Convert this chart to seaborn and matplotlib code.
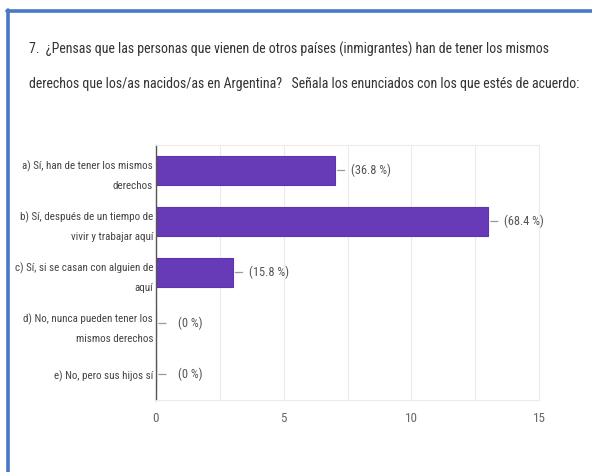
import matplotlib
matplotlib.use("Agg")
import matplotlib.pyplot as plt
from matplotlib.lines import Line2D
from matplotlib.ticker import MultipleLocator
from matplotlib import font_manager as fm
import seaborn as sns

categories = [
    "a) Sí, han de tener los mismos\nderechos",
    "b) Sí, después de un tiempo de\nvivir y trabajar aquí",
    "c) Sí, si se casan con alguien de\naquí",
    "d) No, nunca pueden tener los\nmismos derechos",
    "e) No, pero sus hijos sí",
]
counts = [7, 13, 3, 0, 0]
pct_labels = ["(36.8 %)", "(68.4 %)", "(15.8 %)", "(0 %)", "(0 %)"]
x_ticks = [0, 5, 10, 15]
title_lines = [
    "7.  ¿Pensas que las personas que vienen de otros países (inmigrantes) han de tener los mismos",
    "derechos que los/as nacidos/as en Argentina?   Señala los enunciados con los que estés de acuerdo:",
]

sns.set_theme(style="white")


def pick_font():
    for name in ["Liberation Sans Narrow", "Roboto Condensed", "Roboto", "DejaVu Sans"]:
        try:
            fm.findfont(fm.FontProperties(family=name), fallback_to_default=False)
            return name
        except Exception:
            continue
    return "DejaVu Sans"


FONT = pick_font()
plt.rcParams["font.family"] = [FONT, "DejaVu Sans"]

W, H = 592, 472
fig = plt.figure(figsize=(W / 100, H / 100), dpi=100)
fig.patch.set_facecolor("white")
renderer = fig.canvas.get_renderer()


def fit_size(text, target_px, base=10.0):
    t = fig.text(0, 0, text, fontsize=base)
    w = t.get_window_extent(renderer=renderer).width
    t.remove()
    return base * target_px / w


title_fs = min(fit_size(title_lines[0], 534), fit_size(title_lines[1], 549))
ylab_fs = min(fit_size("b) Sí, después de un tiempo de", 137),
              fit_size("c) Sí, si se casan con alguien de", 137))
pct_fs = fit_size("(36.8 %)", 40)
tick_fs = min(pct_fs * 1.05, 10)

ax = fig.add_axes([156 / W, 1 - 400 / H, (539 - 156) / W, (400 - 145) / H])
sns.barplot(x=counts, y=categories, orient="h", color="#673ab7",
            saturation=1, width=0.58, edgecolor="#5e35b1", linewidth=0.8, ax=ax)

ax.set_xlim(0, 15)
ax.set_xticks(x_ticks)
ax.xaxis.set_minor_locator(MultipleLocator(2.5))
ax.grid(True, axis="x", which="both", color="#ececec", linewidth=0.8)
ax.set_axisbelow(True)
for s in ["top", "right", "bottom"]:
    ax.spines[s].set_color("#ececec")
    ax.spines[s].set_linewidth(0.8)
ax.spines["left"].set_color("#555555")
ax.spines["left"].set_linewidth(1.0)
ax.tick_params(axis="x", which="both", length=0, pad=9, labelsize=tick_fs, labelcolor="#666666")
ax.tick_params(axis="y", length=0, pad=2, labelsize=ylab_fs, labelcolor="#444444")
for lab in ax.get_yticklabels():
    lab.set_linespacing(2.1)
ax.set_xlabel("")
ax.set_ylabel("")

for i, (v, lab) in enumerate(zip(counts, pct_labels)):
    ax.annotate("", xy=(v, i), xytext=(10, 0), textcoords="offset pixels",
                xycoords="data",
                arrowprops=dict(arrowstyle="-", color="#999999", lw=0.9,
                                shrinkA=0, shrinkB=2))
    ax.annotate(lab, xy=(v, i), xytext=(16 if v > 0 else 22, 0),
                textcoords="offset pixels", va="center", ha="left",
                fontsize=pct_fs, color="#555555")

for line, yc in zip(title_lines, [48, 82]):
    fig.text(29 / W, 1 - yc / H, line, ha="left", va="center_baseline",
             fontsize=title_fs, color="#333333")

# blue frame of the screenshot
fig.add_artist(Line2D([7.5 / W, 7.5 / W], [0, 1 - 10 / H], color="#4a78c8", lw=2.6,
                      transform=fig.transFigure))
fig.add_artist(Line2D([6.5 / W, 1], [1 - 11 / H, 1 - 11 / H], color="#4a78c8", lw=2.6,
                      transform=fig.transFigure))

fig.savefig("out.png", dpi=100)
